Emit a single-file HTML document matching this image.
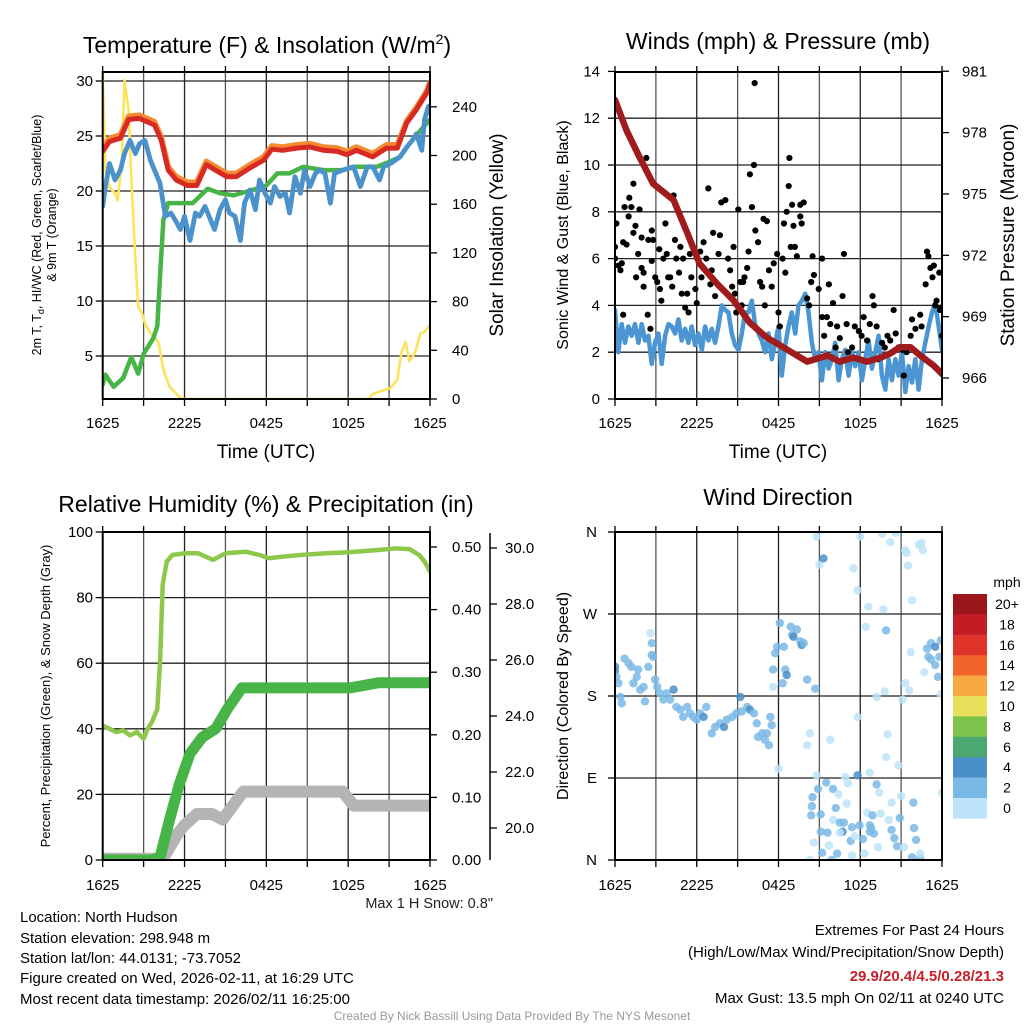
<!DOCTYPE html>
<html><head><meta charset="utf-8"><title>Mesonet Station Meteogram</title>
<style>
html,body{margin:0;padding:0;background:#fff;}
body{width:1024px;height:1024px;overflow:hidden;font-family:"Liberation Sans",Arial,sans-serif;}
svg text{font-family:"Liberation Sans",Arial,sans-serif;fill:#000;}
</style></head>
<body>
<svg id="root" width="1024" height="1024" viewBox="0 0 1024 1024" xmlns="http://www.w3.org/2000/svg">
<defs>
<clipPath id="c1"><rect x="102.7" y="72" width="327.3" height="327"/></clipPath>
<clipPath id="c2"><rect x="615" y="72" width="327" height="327"/></clipPath>
<clipPath id="c3"><rect x="102.7" y="532" width="327.3" height="328"/></clipPath>
<clipPath id="c4"><rect x="615" y="532" width="327" height="328"/></clipPath>
</defs>
<g id="p1"></g>
<g id="p2"></g>
<g id="p3"></g>
<g id="p4"></g>

<text x="267" y="53" font-size="23" text-anchor="middle">Temperature (F) &amp; Insolation (W/m<tspan font-size="14" dy="-9">2</tspan><tspan dy="9">)</tspan></text>
<text x="778" y="49" font-size="23" text-anchor="middle">Winds (mph) &amp; Pressure (mb)</text>
<text x="266" y="512" font-size="23" text-anchor="middle">Relative Humidity (%) &amp; Precipitation (in)</text>
<text x="778" y="505" font-size="23" text-anchor="middle">Wind Direction</text>

<text x="266" y="458" font-size="19" text-anchor="middle">Time (UTC)</text>
<text x="778" y="458" font-size="19" text-anchor="middle">Time (UTC)</text>

<text transform="translate(41,235) rotate(-90)" font-size="12.5" text-anchor="middle">2m T, T<tspan font-size="9" dy="3">d</tspan><tspan dy="-3">, HI/WC (Red, Green, Scarlet/Blue)</tspan></text>
<text transform="translate(56,235) rotate(-90)" font-size="12.5" text-anchor="middle">&amp; 9m T (Orange)</text>
<text transform="translate(503,235) rotate(-90)" font-size="19" text-anchor="middle">Solar Insolation (Yellow)</text>
<text transform="translate(568,235) rotate(-90)" font-size="16" text-anchor="middle">Sonic Wind &amp; Gust (Blue, Black)</text>
<text transform="translate(1014,235) rotate(-90)" font-size="19" text-anchor="middle">Station Pressure (Maroon)</text>
<text transform="translate(50,696) rotate(-90)" font-size="13" text-anchor="middle">Percent, Precipitation (Green), &amp; Snow Depth (Gray)</text>
<text transform="translate(568,696) rotate(-90)" font-size="16" text-anchor="middle">Direction (Colored By Speed)</text>

<text x="493" y="908" font-size="14.5" text-anchor="end" style="fill:#222">Max 1 H Snow: 0.8"</text>

<g font-size="15">
<text x="20" y="922">Location: North Hudson</text>
<text x="20" y="943">Station elevation: 298.948 m</text>
<text x="20" y="963">Station lat/lon: 44.0131; -73.7052</text>
<text x="20" y="983">Figure created on Wed, 2026-02-11, at 16:29 UTC</text>
<text x="20" y="1004">Most recent data timestamp: 2026/02/11 16:25:00</text>
</g>
<g font-size="15" text-anchor="end">
<text x="1004" y="935">Extremes For Past 24 Hours</text>
<text x="1004" y="957">(High/Low/Max Wind/Precipitation/Snow Depth)</text>
<text x="1004" y="981" font-weight="bold" style="fill:#c8202a">29.9/20.4/4.5/0.28/21.3</text>
<text x="1004" y="1003">Max Gust: 13.5 mph On 02/11 at 0240 UTC</text>
</g>
<text x="512" y="1020" font-size="12" text-anchor="middle" style="fill:#999">Created By Nick Bassill Using Data Provided By The NYS Mesonet</text>
</svg>

<script>
// ---------- DATA ----------
const xTickLabels = ["1625","2225","0425","1025","1625"];
const tempTicks = [5,10,15,20,25,30];
const solarTicks = [0,40,80,120,160,200,240];
const windTicks = [0,2,4,6,8,10,12,14];
const presTicks = [966,969,972,975,978,981];
const pctTicks = [0,20,40,60,80,100];
const precipTicks = [0.00,0.10,0.20,0.30,0.40,0.50];
const snowTicks = [20.0,22.0,24.0,26.0,28.0,30.0];
const dirTickLabels = ["N","E","S","W","N"];
const dirTickValues = [0,90,180,270,360];

const redT = [0,0.5,1.3,1.9,2.7,3.8,4.3,4.8,5.4,6.2,6.9,7.6,8.4,9.1,9.8,10.8,11.8,12.4,13.2,14.2,15.2,16.2,17.2,17.9,18.6,19.8,20.8,21.6,22.3,23.0,23.8,24];
const redV = [23.6,24.5,24.8,26.5,26.6,26.0,24.6,21.9,21.0,20.5,20.5,22.4,21.8,21.3,21.3,22.1,22.8,23.8,23.7,23.9,24.0,23.7,23.6,23.3,23.7,23.1,23.9,23.9,26.2,27.4,29.0,29.8];
const orangeV = [23.9,24.8,25.1,26.8,26.9,26.3,24.9,22.2,21.3,20.8,20.8,22.7,22.1,21.6,21.6,22.4,23.1,24.1,24.0,24.2,24.3,24.0,23.9,23.6,24.0,23.4,24.2,24.2,26.4,27.6,29.2,29.9];
const greenT = [0,0.2,0.8,1.5,2.1,2.6,3.0,3.7,4.0,4.2,4.45,4.8,5.4,6.6,7.7,8.6,9.6,11.0,12.0,12.8,13.7,14.7,16.2,17.6,18.6,20.1,21.1,21.8,22.5,23.3,24];
const greenV = [2.4,3.3,2.2,3.0,4.9,3.4,5.2,6.6,7.7,12.2,17.4,18.9,18.9,18.9,20.2,19.8,19.6,20.1,20.5,21.6,21.6,22.2,21.9,21.9,22.2,22.2,22.7,23.1,24.3,25.5,26.5];
const blueT = [0,0.2,0.5,0.9,1.3,1.6,2.0,2.4,2.7,3.1,3.5,3.8,4.2,4.6,5.0,5.3,5.7,6.0,6.4,6.8,7.1,7.5,7.9,8.2,8.6,9.0,9.3,9.7,10.1,10.4,10.8,11.2,11.5,11.9,12.3,12.6,13.0,13.4,13.7,14.1,14.5,14.8,15.2,15.6,15.9,16.3,16.7,17.0,17.6,18.4,18.9,19.4,19.8,20.3,20.6,21.1,21.8,22.3,22.7,23.0,23.4,23.6,23.9,24];
const blueV = [18.6,20.4,22.5,21.0,21.9,23.4,24.6,23.4,24.3,24.6,22.8,21.9,20.7,17.7,18.0,17.4,16.5,17.7,15.5,18.0,17.7,18.6,17.4,16.5,18.3,19.2,18.0,17.7,15.5,18.9,20.1,18.3,21.0,19.8,18.9,20.4,19.5,19.8,18.0,21.3,19.8,21.9,20.4,21.6,21.9,21.6,18.9,21.6,21.9,22.2,20.4,22.2,22.2,21.0,22.2,22.5,23.1,24.0,24.6,25.2,23.7,26.5,27.7,27.1];
const solarT = [0,0.2,0.5,0.9,1.1,1.4,1.6,1.9,2.1,2.4,2.6,2.9,3.1,3.5,3.8,4.1,4.45,4.9,5.7,6,19.5,19.8,20.3,21.1,21.6,21.9,22.2,22.5,22.9,23.3,23.6,24];
const solarV = [267,188,174,169,163,196,262,237,183,114,76,70,62,54,51,46,24,10,1,0,0,4,6,9,16,38,47,31,38,54,55,61];

const presT = [0,0.85,1.8,2.8,4.3,5.3,6.2,7.5,8.7,9.9,11.1,12.6,14.1,15.6,16.5,17.5,18.5,19.5,20.2,20.9,21.7,22.4,23.4,24];
const presV = [979.6,978.1,976.8,975.5,974.7,973.1,971.6,970.6,969.8,968.7,968.0,967.4,966.8,967.1,966.8,967.0,966.8,967.0,967.2,967.5,967.5,967.1,966.6,966.2];
const sonicV = [3.8,2.0,3.2,2.4,3.1,2.7,3.2,2.4,3.2,2.5,2.7,1.5,2.4,2.8,1.5,2.7,3.2,3.1,2.8,3.4,2.5,3.0,2.4,3.1,2.3,2.8,2.1,3.1,2.5,3.0,2.4,3.1,4.0,3.8,3.7,2.8,2.3,2.1,2.8,3.7,3.7,4.2,3.2,2.8,2.5,2.0,2.8,1.7,2.4,3.1,1.0,2.3,3.1,3.7,2.8,4.0,4.2,4.5,3.7,2.4,1.7,2.0,0.8,2.0,1.3,1.7,2.4,0.8,1.7,2.1,1.0,2.0,1.4,2.0,0.8,1.7,2.5,1.3,2.0,2.7,1.0,0.4,1.7,0.8,1.7,1.0,2.0,0.3,1.4,0.7,1.7,0.4,1.7,2.4,3.1,3.7,4.1,3.1,2.1];
const gustT = [0,0,0.1,0.25,0.4,0.5,0.6,0.6,0.7,0.85,1.0,1.05,1.2,1.35,1.5,1.35,1.7,1.55,1.8,1.95,1.95,2.1,2.1,2.3,2.4,2.45,2.6,2.7,2.7,2.8,2.95,3.1,3.25,3.3,3.4,3.55,3.7,3.8,3.9,4.05,4.2,4.3,4.4,4.5,4.7,4.8,4.9,5.0,5.15,5.3,5.4,5.5,5.6,5.9,6.0,6.25,6.35,6.5,6.7,6.85,7.0,7.1,7.2,7.35,7.6,7.7,7.8,8.1,8.3,8.45,8.6,8.7,8.8,8.9,9.05,9.2,9.3,9.4,9.5,9.7,9.8,9.9,10.05,10.2,10.25,10.3,10.5,10.65,10.8,10.9,11.0,11.15,11.3,11.5,11.65,11.9,12.0,12.1,12.3,12.4,12.5,12.6,12.75,12.8,12.9,13.0,13.1,13.2,13.35,13.6,13.6,13.7,13.85,14.1,14.25,14.4,14.5,14.6,14.95,15.2,15.2,15.35,15.55,15.7,15.8,16.0,16.2,16.3,16.5,16.7,16.8,17.0,17.1,17.4,17.6,17.9,18.1,18.25,18.5,18.7,18.9,19.0,19.2,19.3,19.6,19.8,20.0,20.2,20.45,20.6,20.8,21.1,21.2,21.4,21.7,21.8,22.05,22.4,22.5,22.8,22.9,23.0,23.15,23.3,23.4,23.5,23.6,23.8,23.9,24,23.85];
const gustV = [6.5,6.0,7.5,5.7,5.5,5.8,3.6,6.7,8.2,6.6,7.8,8.6,8.2,7.1,7.4,9.2,6.2,5.2,8.1,6.9,5.6,5.4,4.8,10.3,3.6,6.8,3.0,7.2,5.9,6.8,5.2,5.0,6.4,4.7,4.2,6.0,7.5,6.2,5.2,5.2,4.8,8.7,6.8,6.0,5.4,6.5,4.5,6.0,3.9,4.5,3.7,6.2,5.2,4.7,4.1,6.3,5.2,6.7,6.0,9.0,4.9,5.5,7.1,4.4,6.2,7.0,8.4,8.5,6.0,5.5,4.8,6.5,4.5,3.7,8.1,5.0,4.0,5.0,5.2,5.6,6.3,9.6,8.2,10.0,13.5,7.2,6.7,5.0,4.8,7.7,4.0,7.6,5.5,4.8,5.8,6.2,3.7,3.1,6.0,7.5,5.4,8.0,9.1,10.3,6.5,8.3,7.4,6.5,6.1,8.3,7.8,7.5,8.4,4.3,4.0,5.0,6.1,5.3,4.7,6.0,3.5,2.7,3.5,4.9,3.2,4.1,2.2,3.1,2.6,4.4,6.2,3.2,2.0,2.2,3.1,2.9,2.7,3.5,2.5,3.2,4.4,4.0,3.1,1.7,2.4,2.2,2.7,2.5,3.8,2.8,2.2,2.1,1.0,2.0,2.7,3.4,3.0,3.6,3.1,4.9,6.3,6.1,5.6,5.2,5.7,4.0,4.2,5.4,3.9,2.7,3.8];

const rhT = [0,0.5,1,1.5,2,2.5,3,3.3,3.6,4.0,4.2,4.4,4.7,5.1,6,7,8.1,9,10.5,11.5,12.2,13.2,14.5,16.4,18,20.2,21.5,22.5,23.2,23.6,24];
const rhV = [41,40,39,39.5,38,39,37,40,42,46,60,84,91,93,93.5,93.5,91.5,93.5,94,93,92,92.5,93,93.5,93.8,94.5,95,94.8,93,91,88];
const precipT = [0,3.6,4.2,4.9,5.6,6.4,7.3,8.3,9.1,10.2,18.1,19.2,20.2,24];
const precipV = [0,0,0.004,0.064,0.12,0.17,0.196,0.21,0.24,0.275,0.275,0.279,0.283,0.283];
const snowT = [0,4.4,4.9,5.5,6.0,6.9,8.0,8.8,9.4,10.3,17.6,18.4,24];
const snowV = [18.9,18.9,19.3,19.8,20.1,20.5,20.5,20.3,20.7,21.3,21.3,20.8,20.8];

const dirT = [0,0,0.1,0.25,0.4,0.5,0.7,1.0,1.2,1.35,1.6,1.7,1.85,2.1,2.2,2.45,2.6,2.7,2.7,2.8,2.95,3.1,3.3,3.55,3.8,4.05,4.3,4.5,4.8,5.0,5.3,5.5,5.75,6.0,6.25,6.5,6.7,7.1,7.35,7.7,8.0,8.2,8.6,8.9,9.2,9.3,9.7,9.9,10.2,10.4,10.5,10.8,11.0,11.15,11.3,11.4,11.5,
11.6,11.75,11.9,12.1,12.4,12.5,12.6,12.9,13.0,13.1,13.35,13.6,13.7,13.85,14.1,14.7,11.6,12.3,
14.8,15.0,15.3,18.0,17.5,17.8,18.6,19.6,20.2,20.6,19.7,21.3,21.4,21.5,21.8,22.3,22.5,22.6,18.4,19.9,21.7,22.7,21.3,21.6,19.8,19.2,21.1,23.9,17.8,14.3,14.1,15.8,20.0,19.9,20.8,12.0,14.8,16.9,18.7,24.0,
22.9,23.2,23.5,23.9,23.0,23.2,23.5,23.8,23.7,
15.5,16.0,16.4,17.0,17.1,17.8,19.2,19.4,20.3,21.0,21.9,14.5,14.9,14.45,14.4,15.1,16.2,15.1,15.6,16.0,16.5,16.8,16.7,16.5,17.4,17.95,18.5,18.9,19.5,20.1,20.9,18.7,18.8,19.0,18.7,20.3,20.5,20.7,21.2,21.95,22.1,21.8,22.4,22.4,17.3,17.6,18.2,19.3,15.2,16.3,15.9,14.3,17.4,18.3,15.7,14.6];
const dirDeg = [212,207,201,194,179,172,221,216,212,194,201,209,187,190,174,212,249,238,225,223,198,190,183,176,183,176,187,168,165,157,168,161,157,154,161,157,168,139,146,150,146,154,157,161,179,163,168,165,161,150,135,139,132,139,126,157,148,
209,227,234,260,234,209,203,256,247,245,253,240,236,238,198,188,190,194,
355,324,331,355,320,296,278,358,349,359,275,340,337,323,285,346,348,340,256,252,228,206,194,186,185,179,176,182,157,139,126,132,138,113,104,100,93,91,96,74,
232,238,234,241,223,220,214,223,201,
85,78,72,62,84,93,83,74,63,70,63,69,78,59,49,50,57,31,30,44,41,41,31,30,36,38,52,49,51,44,46,38,35,29,31,33,24,15,14,35,22,3,2,7,21,26,23,14,8,7,0,0,5,7,16,19];
const dirSpd = [4.5,4.2,3,3,3,3,3,3,3,3,3,3,3,3,3,3,1,3,3,3,3,3,3,3,3,3,4.5,3,3,3,3,3,3,3,3,4.5,3,3,3,3,4.5,3,3,3,4.5,3,3,4.5,3,3,3,3,3,3,3,3,3,
3,3,3,3,3,3,4.6,3,3,4.6,3,3,4.6,3,3,3,1,3,
1,1,4.2,1,1,1,1,1,1,1,1,1,1,1,1,1,1,1,1,3.5,1,1,1,1,1,1,1,1,1,1,1,1,1,1,1,1,1,1,1,1,
3,3,4.5,3,3,3,3,3,3,
3,3,1,1,1,4.2,3.5,1,1,1,3.5,3,3,3,3,3,3,3,3,1,3,3,4.6,1,3,3,1,3,1,1,3,3,3,3,3,3,3,3,1,3,3,3,3,1,3,1,3,1,3,3,3,1,1,1,1,1];

const speedBinLabels = ["20+","18","16","14","12","10","8","6","4","2","0"];
const speedBinColors = ["#9a161b","#c21d25","#e0342b","#f1652b","#f8a843","#e8e05a","#7dc24b","#4aa870","#4a8fc8","#7ab9e6","#bde4f8"];

// ---------- HELPERS ----------
const NS="http://www.w3.org/2000/svg";
function mk(parent, tag, attrs){const e=document.createElementNS(NS,tag);for(const k in attrs)e.setAttribute(k,attrs[k]);parent.appendChild(e);return e;}
function pathD(ts,vs,xf,yf){let d="";for(let i=0;i<ts.length;i++){d+=(i?"L":"M")+xf(ts[i]).toFixed(1)+","+yf(vs[i]).toFixed(1);}return d;}

const xA=t=>102.7+t*327.3/24;
const xB=t=>615+t*327/24;
const yT=v=>191-(v-20)*11;
const yI=w=>399-w*1.2175;
const yW=v=>399-v*23.4;
const yP=p=>378-(p-966)*20.45;
const yPct=v=>860-v*3.28;
const yPr=v=>860-v*626;
const ySn=v=>828-(v-20)*28;
const yD=d=>860-d*328/360;
function speedColor(s){let idx=Math.min(10,Math.floor(s/2));return speedBinColors[10-idx];}

function frame(g,x0,y0,x1,y1,xf,hLines,labOff){
  for(let h=3;h<24;h+=3){
    const l=mk(g,"line",{x1:xf(h),y1:y0,x2:xf(h),y2:y1,stroke:(h%6===0)?"#222":"#555","stroke-width":1.3});
    
    
  }
  hLines.forEach(y=>{
    const l=mk(g,"line",{x1:x0,y1:y,x2:x1,y2:y,stroke:"#222","stroke-width":1.3});
    
    
  });
  for(let h=0;h<=24;h+=3){
    const tk=mk(g,"line",{x1:xf(h),y1:y1,x2:xf(h),y2:y1+7,stroke:"#000","stroke-width":1.3});
    
    
    const tk2=mk(g,"line",{x1:xf(h),y1:y0,x2:xf(h),y2:y0-6,stroke:"#000","stroke-width":1.3});
    
    
  }
  xTickLabels.forEach((lab,i)=>{
    const t=mk(g,"text",{x:xf(i*6),y:y1+labOff,"font-size":15,"text-anchor":"middle"});
    t.textContent=lab;
    
    
  });
}
function border(g,x0,y0,x1,y1){
  const b=mk(g,"rect",{x:x0,y:y0,width:x1-x0,height:y1-y0,fill:"none",stroke:"#000","stroke-width":2});
  
  
}
function yTicks(g,vals,yf,xAxis,side,fmt,labelX,anchor){
  vals.forEach(v=>{
    const y=yf(v);
    const tk=mk(g,"line",{x1:xAxis,y1:y,x2:xAxis+(side<0?-7:7),y2:y,stroke:"#000","stroke-width":1.3});
    
    
    const t=mk(g,"text",{x:labelX,y:y+5,"font-size":15,"text-anchor":anchor});
    t.textContent=fmt(v);
    
    
  });
}
function line(g,clip,ts,vs,xf,yf,color,w,name){
  const p=mk(g,"path",{d:pathD(ts,vs,xf,yf),fill:"none",stroke:color,"stroke-width":w,"stroke-linejoin":"round","stroke-linecap":"round","clip-path":"url(#"+clip+")"});
  
  
  return p;
}

// ---------- PANEL 1 ----------
const g1=document.getElementById("p1");
frame(g1,102.7,72,430,399,xA,tempTicks.map(yT),29);
line(g1,"c1",solarT,solarV,xA,yI,"#fde35a",2.6,"solar-insolation-line");
line(g1,"c1",greenT,greenV,xA,yT,"#46b446",4.5,"dewpoint-line");
line(g1,"c1",redT,orangeV,xA,yT,"#f58a32",5.5,"temp-9m-line");
line(g1,"c1",redT,redV,xA,yT,"#d82a24",5,"temp-2m-line");
line(g1,"c1",blueT,blueV,xA,yT,"#4b92cc",4.8,"heat-index-windchill-line");
border(g1,102.7,72,430,399);
yTicks(g1,tempTicks,yT,102.7,-1,v=>String(v),93,"end");
yTicks(g1,solarTicks,yI,430,1,v=>String(v),452,"start");

// ---------- PANEL 2 ----------
const g2=document.getElementById("p2");
frame(g2,615,72,942,399,xB,[2,4,6,8,10,12].map(yW),29);
const sonicT=sonicV.map((v,i)=>i*24/(sonicV.length-1));
line(g2,"c2",sonicT,sonicV,xB,yW,"#4b96d2",4.5,"sonic-wind-line");
gustV.forEach((v,i)=>{
  const c=mk(g2,"circle",{cx:xB(gustT[i]),cy:yW(v),r:3.1,fill:"#000","clip-path":"url(#c2)"});
  
  
});
line(g2,"c2",presT,presV,xB,yP,"#a01c1c",6.5,"pressure-line");
border(g2,615,72,942,399);
yTicks(g2,windTicks,yW,615,-1,v=>String(v),600,"end");
yTicks(g2,presTicks,yP,942,1,v=>String(v),962,"start");

// ---------- PANEL 3 ----------
const g3=document.getElementById("p3");
frame(g3,102.7,532,430,860,xA,[20,40,60,80].map(yPct),30);
line(g3,"c3",snowT,snowV,xA,ySn,"#b4b4b4",12,"snow-depth-line");
line(g3,"c3",precipT,precipV,xA,yPr,"#46b446",11,"precipitation-line");
line(g3,"c3",rhT,rhV,xA,yPct,"#8dc84c",4.5,"relative-humidity-line");
border(g3,102.7,532,430,860);
yTicks(g3,pctTicks,yPct,102.7,-1,v=>String(v),93,"end");
yTicks(g3,precipTicks,yPr,430,1,v=>v.toFixed(2),452,"start");
const sAx=mk(g3,"line",{x1:490,y1:533,x2:490,y2:860,stroke:"#000","stroke-width":1.5});


yTicks(g3,snowTicks,ySn,490,1,v=>v.toFixed(1),505,"start");

// ---------- PANEL 4 ----------
const g4=document.getElementById("p4");
frame(g4,615,532,942,860,xB,[90,180,270].map(yD),30);
dirDeg.forEach((d,i)=>{
  const c=mk(g4,"circle",{cx:xB(dirT[i]),cy:yD(d),r:4.2,fill:speedColor(dirSpd[i]),"fill-opacity":0.85,"clip-path":"url(#c4)"});
  
  
});
border(g4,615,532,942,860);
dirTickValues.forEach((d,i)=>{
  const y=yD(d);
  const tk=mk(g4,"line",{x1:615,y1:y,x2:608,y2:y,stroke:"#000","stroke-width":1.3});
  
  
  const t=mk(g4,"text",{x:597,y:y+5,"font-size":15,"text-anchor":"end"});
  t.textContent=dirTickLabels[i];
  
  
});
const cbTop=594, cbH=20.4;
const mph=mk(g4,"text",{x:1007,y:587,"font-size":14,"text-anchor":"middle"});
mph.textContent="mph";


speedBinColors.forEach((c,i)=>{
  const r=mk(g4,"rect",{x:953,y:cbTop+i*cbH,width:34,height:cbH+0.3,fill:c});
  
  
  const t=mk(g4,"text",{x:1007,y:cbTop+i*cbH+15,"font-size":14,"text-anchor":"middle"});
  t.textContent=speedBinLabels[i];
  
  
});
</script>
</body></html>
